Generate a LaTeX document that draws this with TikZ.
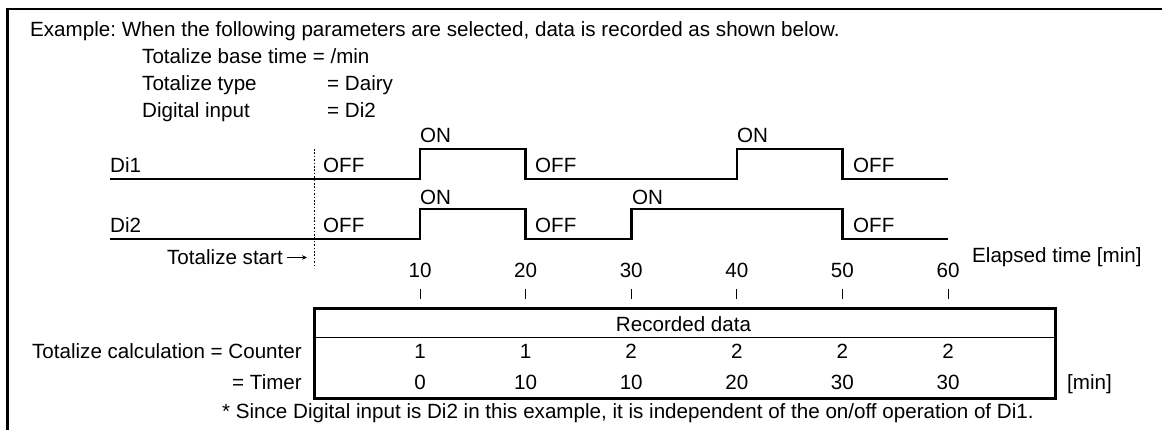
\documentclass[tikz,border=0pt]{standalone}
\usepackage{fontspec}
\setmainfont{Liberation Sans}
\usetikzlibrary{arrows.meta}
\frenchspacing
\tikzset{
  lbl/.style={inner sep=0pt, font=\fontsize{20.6}{24}\selectfont},
  sig/.style={line width=2.6pt, line join=miter},
  tickmark/.style={line width=1pt},
  frameline/.style={line width=2.6pt},
  startline/.style={line width=1pt, dash pattern=on 1.6pt off 1.8pt},
  thinarrow/.style={line width=0.9pt, -{Stealth[length=5pt,width=4.5pt]}},
}
\begin{document}
\begin{tikzpicture}[x=1pt,y=-1pt]
\useasboundingbox (0,0) rectangle (1162,430);
% frame
\coordinate (fbl) at (7.5,430);
\coordinate (ftl) at (7.5,9);
\coordinate (ftr) at (1162,9);
\draw[frameline] (fbl) -- (ftl) -- (ftr);
% header
\node[lbl,anchor=base west] (ex) at (30,37) {Example: When the following parameters are selected, data is recorded as shown below.};
\node[lbl,anchor=base west] (p1) at (142,64) {Totalize base time = /min};
\node[lbl,anchor=base west] (p2) at (142,91) {Totalize type};
\node[lbl,anchor=base west] (p2v) at (327,91) {= Dairy};
\node[lbl,anchor=base west] (p3) at (142,118) {Digital input};
\node[lbl,anchor=base west] (p3v) at (327,118) {= Di2};
% time positions
\foreach \t in {0,10,20,30,40,50,60}{
  \pgfmathsetmacro{\xx}{314.4+10.56*\t}
  \coordinate (a\t) at (\xx,179);
  \coordinate (b\t) at (\xx,149);
  \coordinate (c\t) at (\xx,239);
  \coordinate (d\t) at (\xx,209);
}
\coordinate (a-s) at (110,179);
\coordinate (c-s) at (110,239);
% signals
\draw[sig] (a-s) -- (a10) -- (b10) -- (b20) -- (a20) -- (a40) -- (b40) -- (b50) -- (a50) -- (a60);
\draw[sig] (c-s) -- (c10) -- (d10) -- (d20) -- (c20) -- (c30) -- (d30) -- (d50) -- (c50) -- (c60);
% signal labels
\node[lbl,anchor=base west] (di1) at (110,173) {Di1};
\node[lbl,anchor=base west] (di2) at (110,233) {Di2};
\node[lbl,anchor=base west] (off1a) at (323,173) {OFF};
\node[lbl,anchor=base west] (on1a) at (420,143) {ON};
\node[lbl,anchor=base west] (off1b) at (535,173) {OFF};
\node[lbl,anchor=base west] (on1b) at (737,143) {ON};
\node[lbl,anchor=base west] (off1c) at (853,173) {OFF};
\node[lbl,anchor=base west] (off2a) at (323,233) {OFF};
\node[lbl,anchor=base west] (on2a) at (420,205) {ON};
\node[lbl,anchor=base west] (off2b) at (535,233) {OFF};
\node[lbl,anchor=base west] (on2b) at (632,205) {ON};
\node[lbl,anchor=base west] (off2c) at (853,233) {OFF};
% totalize start
\coordinate (st) at (314,149);
\coordinate (sb) at (314,268);
\draw[startline] (st) -- (sb);
\node[lbl,anchor=base east] (tstart) at (283,265) {Totalize start};
\coordinate (tsa) at (307,257.5);
\draw[thinarrow] (tstart.east |- tsa) ++(4,0) coordinate (tsb) -- (tsa);
% time axis
\foreach \t in {10,20,30,40,50,60}{
  \pgfmathsetmacro{\xx}{314.4+10.56*\t}
  \node[lbl,anchor=base] (n\t) at (\xx,278) {\t};
  \coordinate (tt\t) at (\xx,289);
  \coordinate (tb\t) at (\xx,299);
  \draw[tickmark] (tt\t) -- (tb\t);
}
\node[lbl,anchor=base west] (elapsed) at (972,263) {Elapsed time [min]};
% table
\node[draw, line width=2.6pt, minimum width=741pt, minimum height=90pt, inner sep=0pt, anchor=north west] (tab) at (313,307) {};
\coordinate (rl) at (313,338);
\coordinate (rr) at (1054,338);
\draw[line width=1pt] (rl) -- (rr);
\node[lbl,anchor=base] (rec) at (683.5,331) {Recorded data};
\foreach \t/\c/\m in {10/1/0,20/1/10,30/2/10,40/2/20,50/2/30,60/2/30}{
  \pgfmathsetmacro{\xx}{314.4+10.56*\t}
  \node[lbl,anchor=base] (cnt\t) at (\xx,358) {\c};
  \node[lbl,anchor=base] (tim\t) at (\xx,389) {\m};
}
\node[lbl,anchor=base east] (calc) at (302,358) {Totalize calculation = Counter};
\node[lbl,anchor=base east] (timer) at (302,389) {= Timer};
\node[lbl,anchor=base west] (unit) at (1067,389) {[min]};
\node[lbl,anchor=base west] (note) at (222,418) {* Since Digital input is Di2 in this example, it is independent of the on/off operation of Di1.};
\end{tikzpicture}
\end{document}
